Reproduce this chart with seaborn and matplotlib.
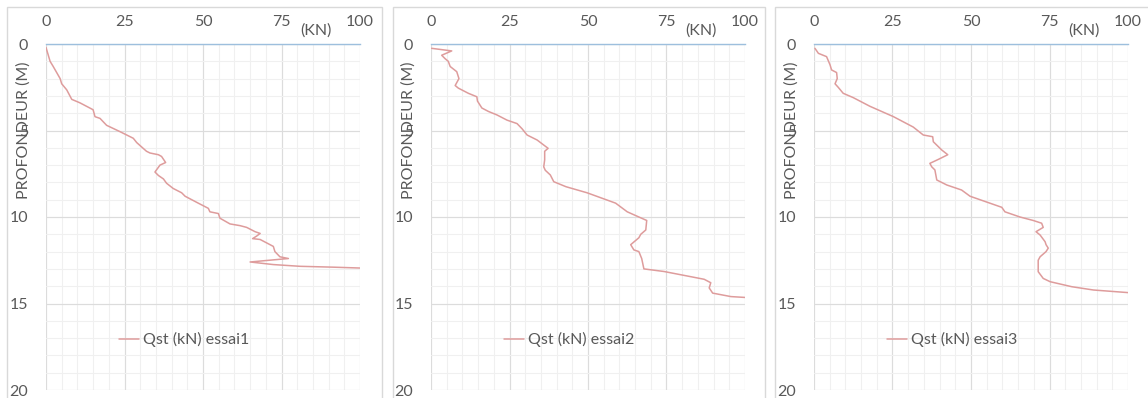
import matplotlib
matplotlib.use("Agg")
import matplotlib.pyplot as plt
from matplotlib.ticker import MultipleLocator
from matplotlib.patches import Rectangle
import seaborn as sns
import pandas as pd

# ---- data (depth in m, Qst in kN) ----
depth1 = [0.2, 1.0, 1.3, 2.0, 2.3, 2.65, 3.2, 3.4, 3.8, 4.2, 4.3, 4.7, 5.07, 5.45, 5.7,
          6.2, 6.3, 6.4, 6.5, 6.85, 7.0, 7.4, 7.6, 7.8, 8.05, 8.35, 8.6, 8.8, 9.2, 9.5,
          9.7, 9.8, 10.07, 10.4, 10.5, 10.6, 10.85, 10.95, 11.1, 11.25, 11.3, 11.5, 11.7,
          12.0, 12.3, 12.4, 12.6, 12.75, 12.85, 12.9, 12.95]
qst1 = [0, 1.3, 2.3, 4.5, 5, 6.6, 8.2, 10.8, 15, 15.6, 17.2, 19.3, 23.6, 27.8, 28.9,
        32, 33.1, 35.8, 36.8, 38.1, 36.3, 34.7, 35.8, 37.4, 38.4, 40.5, 43.2, 44.3, 48.5, 51.7,
        52.2, 54.9, 55.4, 58.6, 61.8, 63.9, 66.6, 68.2, 67.1, 65.8, 68.2, 70.3, 72.4,
        72.9, 74.5, 77.2, 65, 72.4, 80.9, 91.5, 100]

depth2 = [0.25, 0.4, 0.65, 0.85, 1.0, 1.3, 1.6, 2.0, 2.4, 2.55, 2.85, 3.05, 3.3, 3.7, 3.9,
          4.1, 4.4, 4.6, 4.9, 5.26, 5.55, 5.84, 6.03, 6.2, 6.7, 7.1, 7.3, 7.57, 7.96, 8.25,
          8.6, 9.2, 9.7, 10.0, 10.2, 10.75, 11.0, 11.2, 11.6, 11.9, 12.0, 12.4, 13.0, 13.15,
          13.6, 13.8, 14.1, 14.4, 14.6, 14.65]
qst2 = [0.2, 6.6, 3.4, 4.5, 5.5, 6.1, 8.2, 8.9, 7.7, 8.7, 11.9, 14.6, 14.8, 16.2, 18.3,
        21, 24.2, 27.4, 29, 30.6, 33.8, 35.9, 37.3, 36.2, 36.2, 35.9, 36.4, 38, 39.1, 43,
        49.7, 58.8, 62.5, 66.2, 68.7, 68.4, 66.8, 66.2, 63.6, 64.6, 66.2, 67.1, 67.8, 74.2,
        87, 89.1, 88.6, 89.7, 95.5, 100]

depth3 = [0.25, 0.54, 0.73, 1.2, 1.5, 1.65, 2.0, 2.3, 2.5, 2.85, 3.1, 3.6, 4.2, 4.8, 5.26,
          5.36, 5.65, 6.13, 6.4, 6.67, 6.9, 7.1, 7.28, 7.86, 8.15, 8.44, 8.8, 9.44, 9.7, 10.0,
          10.2, 10.36, 10.6, 10.85, 11.04, 11.43, 11.6, 11.8, 12.0, 12.3, 12.5, 13.16, 13.55,
          13.74, 14.03, 14.22, 14.37]
qst3 = [0.3, 1.4, 4, 5.1, 5.6, 7.2, 7.4, 6.7, 7.7, 9.3, 12.5, 17.8, 25.3, 31.6, 34.8,
        37.8, 38, 40.7, 42.6, 39.6, 36.9, 37.5, 38.5, 39.1, 42.3, 47, 49.7, 59.8, 60.8, 65.6,
        69.8, 72.5, 73, 70.7, 72, 73.6, 73.9, 74.6, 73.9, 72, 71.4, 71.4, 73, 75.2,
        82.1, 89, 100]

series_labels = ["Qst (kN) essai1", "Qst (kN) essai2", "Qst (kN) essai3"]
x_ticks = [0, 25, 50, 75, 100]
y_ticks = [0, 5, 10, 15, 20]
x_title = "(KN)"
y_title = "PROFONDEUR (M)"

# ---- style ----
sns.set_theme(style="white")
plt.rcParams["font.family"] = ["Lato", "DejaVu Sans"]

W, H = 1148, 398
fig = plt.figure(figsize=(W / 100, H / 100), dpi=100)
fig.patch.set_facecolor("white")

line_color = "#DE9C9C"
text_color = "#595959"
major_grid = "#DCDCDC"
minor_grid = "#F0F0F0"

# panel boxes (pixels): left, right
boxes = [(7, 382), (393, 765), (775, 1160)]
# axes left pixel positions
ax_left = [46, 431, 814]
ax_w = 314
ax_top, ax_bot = 44, 390

datasets = [(depth1, qst1), (depth2, qst2), (depth3, qst3)]

for i in range(3):
    bl, br = boxes[i]
    fig.add_artist(Rectangle((bl / W, -0.05), (br - bl) / W, 1 - 7 / H + 0.05,
                             transform=fig.transFigure, fill=False,
                             edgecolor="#D9D9D9", linewidth=1.0))
    ax = fig.add_axes([ax_left[i] / W, 1 - ax_bot / H, ax_w / W, (ax_bot - ax_top) / H])
    ax.set_facecolor("none")
    d, q = datasets[i]
    df = pd.DataFrame({"Qst": q, "Profondeur": d})
    sns.lineplot(data=df, x="Qst", y="Profondeur", sort=False, estimator=None,
                 color=line_color, linewidth=1.1, ax=ax, label=series_labels[i])

    ax.set_xlim(0, 100)
    ax.set_ylim(20, 0)
    ax.xaxis.set_major_locator(MultipleLocator(25))
    ax.xaxis.set_minor_locator(MultipleLocator(5))
    ax.yaxis.set_major_locator(MultipleLocator(5))
    ax.yaxis.set_minor_locator(MultipleLocator(1))
    ax.set_xticks(x_ticks)
    ax.set_yticks(y_ticks)
    ax.grid(which="major", color=major_grid, linewidth=0.85)
    ax.grid(which="minor", color=minor_grid, linewidth=0.8)
    ax.set_axisbelow(True)

    ax.xaxis.tick_top()
    ax.tick_params(axis="x", which="both", length=0, pad=10.5,
                   labelsize=11.5, labelcolor=text_color)
    ax.tick_params(axis="y", which="both", length=0, pad=13,
                   labelsize=11.5, labelcolor=text_color)

    for s in ["left", "right", "bottom"]:
        ax.spines[s].set_visible(False)
    ax.spines["top"].set_visible(True)
    ax.spines["top"].set_color("#9DBFDD")
    ax.spines["top"].set_linewidth(1.0)

    ax.xaxis.set_label_position("top")
    ax.set_xlabel(x_title, fontsize=11.5, color=text_color, va="center", ha="center")
    ax.xaxis.set_label_coords(0.86, 1.04)
    ax.set_ylabel(y_title, fontsize=11.5, color=text_color, va="center", ha="center")
    ax.yaxis.set_label_coords(-0.07, 0.751)

    leg = ax.legend(loc="center", bbox_to_anchor=(0.44, 0.145), frameon=False,
                    handlelength=1.3, handletextpad=0.25, fontsize=11.5,
                    labelcolor=text_color)

fig.savefig("out.png", dpi=100, facecolor="white")
